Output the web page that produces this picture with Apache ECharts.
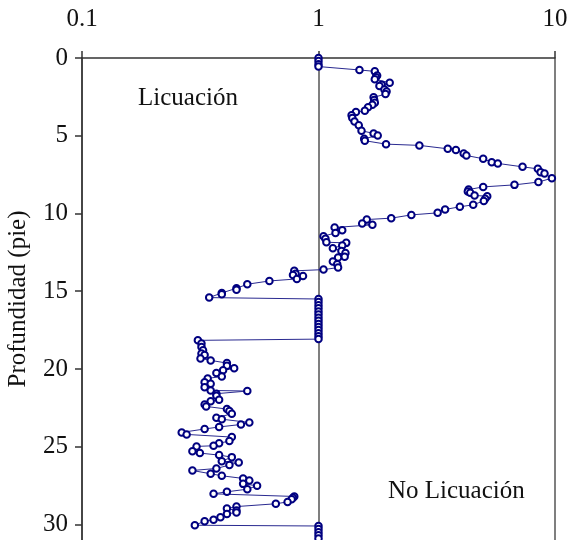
<!DOCTYPE html>
<html>
<head>
<meta charset="utf-8">
<script src="https://cdn.jsdelivr.net/npm/echarts@6/dist/echarts.min.js"></script>
<style>html,body{margin:0;padding:0;background:#fff;}#c{width:571px;height:540px;}</style>
</head>
<body>
<div id="c"></div>
<script>
// Depth (pie) and factor-of-safety style ratio
const depth = [0.0,0.2,0.4,0.55,0.77,0.86,1.12,1.24,1.37,1.59,1.72,1.80,2.02,2.15,2.32,2.53,2.70,2.88,3.00,3.17,3.39,3.48,3.69,3.86,4.08,4.33,4.68,4.85,4.98,5.19,5.32,5.54,5.62,5.84,5.92,6.14,6.27,6.48,6.70,6.78,7.00,7.13,7.34,7.43,7.73,7.98,8.16,8.29,8.46,8.59,8.67,8.84,8.89,9.06,9.19,9.44,9.57,9.74,9.96,10.09,10.30,10.39,10.65,10.73,10.90,11.08,11.25,11.46,11.63,11.85,11.89,12.06,12.23,12.41,12.54,12.79,12.83,13.09,13.26,13.48,13.61,13.69,13.87,13.95,14.02,14.21,14.34,14.55,14.81,14.90,15.11,15.20,15.41,15.5,15.7,15.9,16.1,16.3,16.5,16.7,16.9,17.1,17.3,17.5,17.7,17.9,18.08,18.16,18.37,18.59,18.80,19.01,19.10,19.32,19.45,19.62,19.79,19.96,20.09,20.26,20.48,20.61,20.86,20.95,21.17,21.38,21.42,21.59,21.72,21.98,22.07,22.28,22.41,22.58,22.71,22.88,23.14,23.23,23.44,23.57,23.73,23.86,24.08,24.21,24.38,24.64,24.77,24.94,24.98,25.29,25.41,25.54,25.67,25.93,26.01,26.18,26.40,26.53,26.74,26.87,27.04,27.17,27.39,27.51,27.73,27.90,28.03,28.20,28.29,28.38,28.55,28.67,28.85,28.98,29.10,29.23,29.32,29.53,29.70,29.79,30.05,30.1,30.3,30.5,30.7,30.9];
const ratio = [1,1,1,1,1.49,1.73,1.77,1.75,1.73,2.0,1.85,1.81,1.90,1.94,1.92,1.71,1.72,1.73,1.69,1.62,1.57,1.44,1.38,1.39,1.42,1.48,1.52,1.71,1.78,1.56,1.57,1.93,2.67,3.52,3.81,4.11,4.22,4.97,5.40,5.73,7.29,8.46,8.69,9.03,9.70,8.51,6.74,4.97,4.31,4.28,4.38,4.57,5.17,5.07,5.0,4.51,3.96,3.43,3.19,2.47,2.03,1.60,1.53,1.69,1.17,1.26,1.18,1.05,1.07,1.08,1.31,1.26,1.15,1.25,1.30,1.29,1.21,1.15,1.20,1.21,1.05,0.79,0.80,0.78,0.86,0.81,0.62,0.50,0.45,0.45,0.39,0.39,0.345,1,1,1,1,1,1,1,1,1,1,1,1,1,1,0.309,0.32,0.32,0.325,0.32,0.33,0.317,0.35,0.41,0.41,0.44,0.395,0.37,0.39,0.34,0.33,0.35,0.33,0.35,0.50,0.37,0.37,0.38,0.35,0.33,0.335,0.41,0.42,0.43,0.37,0.39,0.51,0.47,0.38,0.33,0.264,0.277,0.43,0.42,0.38,0.36,0.305,0.293,0.315,0.38,0.43,0.39,0.46,0.42,0.37,0.293,0.35,0.39,0.48,0.51,0.48,0.55,0.50,0.41,0.36,0.79,0.78,0.77,0.74,0.66,0.45,0.41,0.45,0.45,0.41,0.385,0.36,0.33,0.30,1,1,1,1,1];
const xTicks = [0.1, 1, 10];
const yTicks = [0, 5, 10, 15, 20, 25, 30];
const yAxisTitle = 'Profundidad (pie)';
const zoneTop = 'Licuación';
const zoneBottom = 'No Licuación';

const points = depth.map((d, i) => [ratio[i], d]);
const font = '"Liberation Serif", "DejaVu Serif", serif';
const chart = echarts.init(document.getElementById('c'), null, {renderer: 'canvas'});
chart.setOption({
  animation: false,
  backgroundColor: '#ffffff',
  grid: {left: 82, right: 16, top: 58, bottom: 0, containLabel: false, outerBoundsMode: 'none'},
  xAxis: {
    type: 'log', logBase: 10, min: 0.1, max: 10, position: 'top',
    axisLine: {show: true, lineStyle: {color: '#333', width: 1.5}},
    axisTick: {show: true, inside: false, length: 7, lineStyle: {color: '#333', width: 1.5}},
    axisLabel: {fontFamily: font, fontSize: 25, color: '#111', margin: 26,
      formatter: v => xTicks.some(t => Math.abs(t - v) < 1e-9) ? String(v) : ''},
    splitLine: {show: true, lineStyle: {color: '#555', width: 1.5}},
    minorTick: {show: false}
  },
  yAxis: {
    type: 'value', inverse: true, min: 0, max: 31, interval: 5,
    name: yAxisTitle, nameLocation: 'middle', nameRotate: 90, nameGap: 51,
    nameTextStyle: {fontFamily: font, fontSize: 25, color: '#111'},
    axisLine: {show: true, lineStyle: {color: '#333', width: 1.5}},
    axisTick: {show: true, inside: false, length: 7, lineStyle: {color: '#333', width: 1.5}},
    axisLabel: {fontFamily: font, fontSize: 25, color: '#111', margin: 14, showMaxLabel: false,
      formatter: v => yTicks.includes(v) ? String(v) : ''},
    splitLine: {show: false}
  },
  graphic: [
    {type: 'text', left: 138, top: 86, style: {text: zoneTop, font: '25px ' + font, fill: '#111'}},
    {type: 'text', left: 388, top: 479, style: {text: zoneBottom, font: '25px ' + font, fill: '#111'}}
  ],
  series: [{
    type: 'line', data: points,
    symbol: 'emptyCircle', symbolSize: 6.5, showAllSymbol: true,
    itemStyle: {color: '#000080', borderColor: '#000080', borderWidth: 1.5},
    lineStyle: {color: '#2a2a90', width: 1},
    clip: false
  }]
});
</script>
</body>
</html>
